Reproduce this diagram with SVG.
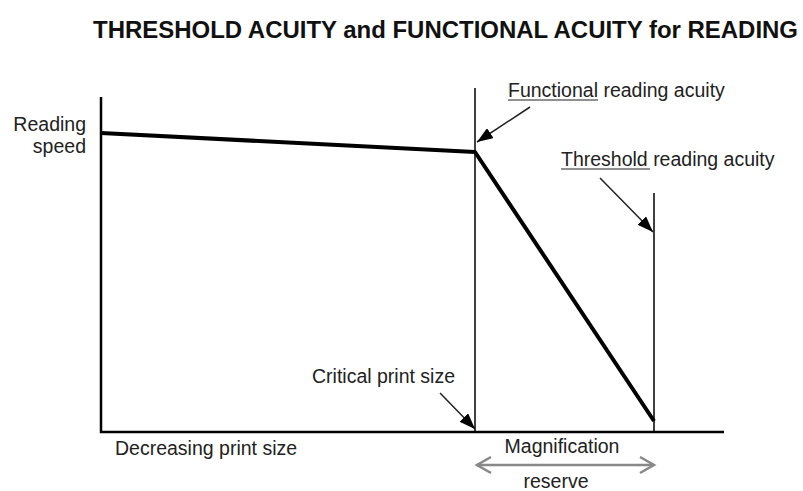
<svg xmlns="http://www.w3.org/2000/svg" width="803" height="491" viewBox="0 0 803 491">
<style>
.t{font-family:"Liberation Sans",Arial,sans-serif;font-size:19.5px;fill:#222}
.ax{stroke:#000;stroke-width:2.5;fill:none}
.vl{stroke:#000;stroke-width:1.5;fill:none}
.curve{stroke:#000;stroke-width:4;fill:none;stroke-linejoin:round}
.ptr{stroke:#222;stroke-width:1.5;fill:none}
.ul{stroke:#222;stroke-width:1.2}
</style>
<defs>
<marker id="ah" viewBox="0 0 16 12" refX="16" refY="6" markerWidth="16" markerHeight="12" markerUnits="userSpaceOnUse" orient="auto">
<path d="M0,0 L16,6 L0,12 Z" fill="#000"/>
</marker>
</defs>
<g id="title"><text x="93" y="38" style="font-family:'Liberation Sans Narrow','Liberation Sans',Arial,sans-serif;font-size:23px;font-weight:bold;fill:#111" textLength="705" lengthAdjust="spacingAndGlyphs">THRESHOLD ACUITY and FUNCTIONAL ACUITY for READING</text></g>
<g id="axes">
<line class="ax" x1="101" y1="97" x2="101" y2="433"/>
<line class="ax" x1="100" y1="432" x2="724" y2="432"/>
</g>
<g id="lines">
<line class="vl" x1="475" y1="88" x2="475" y2="432"/>
<line class="vl" x1="654" y1="193" x2="654" y2="432"/>
<polyline class="curve" points="101,133 475,152 654,421"/>
</g>
<g id="connectors">
<line class="ptr" x1="530" y1="107" x2="477" y2="142" marker-end="url(#ah)"/>
<line class="ptr" x1="600" y1="178" x2="653" y2="232" marker-end="url(#ah)"/>
<line class="ptr" x1="440" y1="393" x2="475" y2="429" marker-end="url(#ah)"/>
<g stroke="#888" stroke-width="2.5" fill="none" stroke-linejoin="miter">
<line x1="477" y1="465" x2="654" y2="465"/>
<polyline points="491,457 477,465 491,473"/>
<polyline points="640,457 654,465 640,473"/>
</g>
</g>
<g id="labels">
<text class="t" x="86" y="131" text-anchor="end">Reading</text>
<text class="t" x="86" y="153" text-anchor="end">speed</text>
<text class="t" x="508" y="97">Functional reading acuity</text>
<line class="ul" x1="508" y1="100" x2="598" y2="100"/>
<text class="t" x="561" y="166">Threshold reading acuity</text>
<line class="ul" x1="561" y1="169" x2="650" y2="169"/>
<text class="t" x="312" y="383">Critical print size</text>
<text class="t" x="115" y="455">Decreasing print size</text>
<text class="t" x="562" y="453" text-anchor="middle">Magnification</text>
<text class="t" x="556" y="488" text-anchor="middle">reserve</text>
</g>
</svg>
